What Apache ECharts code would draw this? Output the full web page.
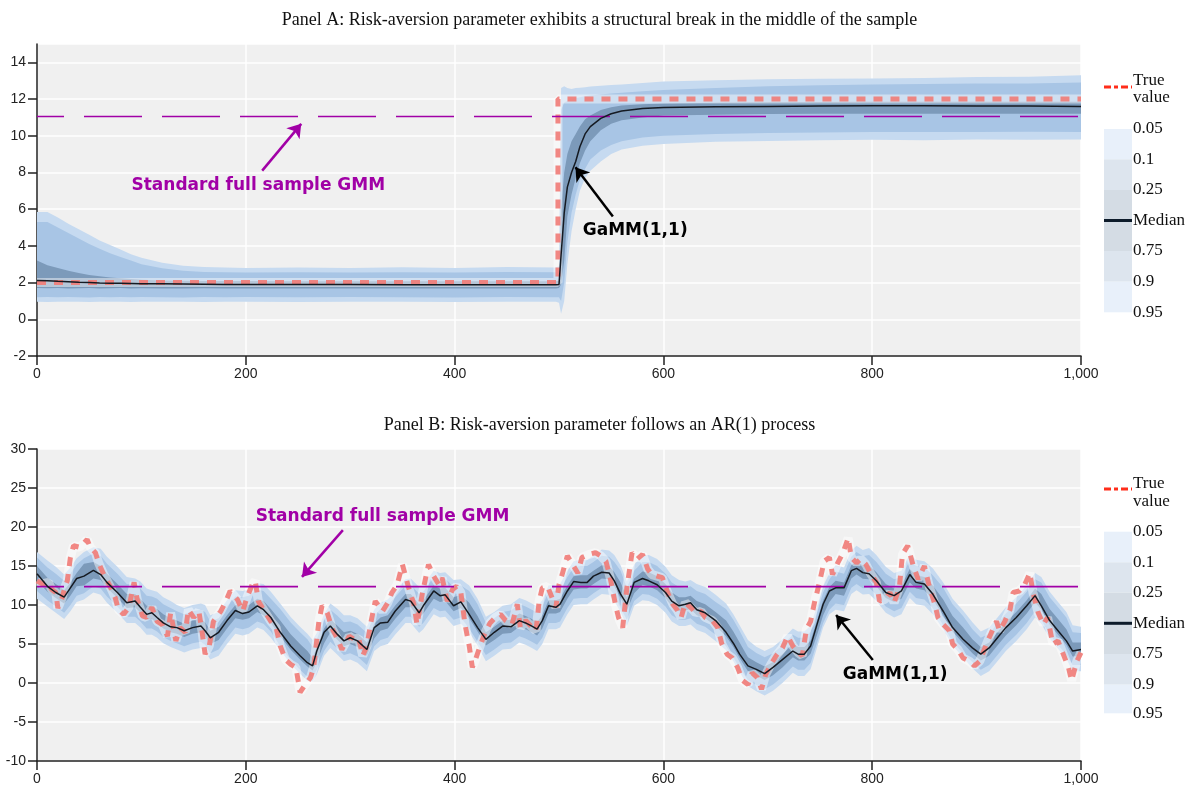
<!DOCTYPE html>
<html>
<head>
<meta charset="utf-8">
<script src="https://cdn.jsdelivr.net/npm/echarts@6/dist/echarts.min.js"></script>
<style>
html,body{margin:0;padding:0;background:#fff;}
#chart{width:1199px;height:787px;}
</style>
</head>
<body>
<div id="chart"></div>
<script>
// ---------------- Panel A data ----------------
const tA = [0,10,20,30,40,50,60,70,80,90, 100,120,140,160,180,200,250,300,350,400,
  450,497,500,502,505,508,512,516,520,525, 530,540,550,560,580,600,650,700,750,800,
  850,900,950,1000];
const medA = [2.12,2.1,2.07,2.05,2.02,2.0,1.98,1.97,1.96,1.95, 1.94,1.93,1.92,1.91,1.9,1.9,1.89,1.89,1.88,1.88,
  1.88,1.88,1.9,3.5,5.8,7.2,8.0,8.6,9.4,10.1, 10.5,10.95,11.2,11.35,11.48,11.54,11.58,11.6,11.62,11.63,
  11.63,11.62,11.62,11.6];
const q05A = [0.95,0.94,0.95,0.96,0.95,0.94,0.95,0.96,0.95,0.94, 0.95,0.96,0.95,0.94,0.96,0.95,0.94,0.96,0.95,0.94,
  0.96,0.95,0.9,0.3,1.0,3.0,4.8,6.0,7.0,7.7, 8.1,8.6,9.0,9.25,9.45,9.55,9.68,9.72,9.75,9.78,
  9.76,9.8,9.78,9.8];
const q10A = [1.2,1.21,1.2,1.22,1.2,1.19,1.21,1.2,1.22,1.2, 1.21,1.2,1.19,1.21,1.2,1.22,1.2,1.21,1.2,1.19,
  1.21,1.2,1.2,1.0,2.0,4.2,5.8,6.8,7.6,8.2, 8.7,9.2,9.5,9.7,9.9,10.0,10.1,10.15,10.18,10.2,
  10.2,10.2,10.22,10.2];
const q25A = [1.7,1.69,1.7,1.68,1.69,1.7,1.68,1.69,1.7,1.68, 1.69,1.68,1.68,1.69,1.68,1.68,1.68,1.68,1.68,1.68,
  1.68,1.68,1.7,1.9,3.2,5.6,6.8,7.7,8.5,9.2, 9.7,10.3,10.65,10.85,11.0,11.1,11.15,11.18,11.2,11.2,
  11.2,11.2,11.2,11.2];
const q75A = [3.2,2.95,2.8,2.65,2.52,2.42,2.34,2.28,2.23,2.19, 2.16,2.12,2.1,2.09,2.08,2.08,2.07,2.07,2.07,2.07,
  2.07,2.07,2.1,6.0,8.0,9.0,9.7,10.1,10.5,10.9, 11.1,11.4,11.55,11.65,11.72,11.76,11.8,11.82,11.84,11.85,
  11.85,11.85,11.85,11.85];
const q90A = [5.3,5.3,5.0,4.7,4.4,4.1,3.85,3.6,3.4,3.2, 3.0,2.78,2.65,2.58,2.56,2.55,2.56,2.55,2.57,2.55,
  2.58,2.57,2.6,11.4,11.8,11.9,12.0,12.05,12.1,12.15, 12.2,12.25,12.3,12.35,12.42,12.5,12.6,12.7,12.75,12.8,
  12.82,12.85,12.85,12.9];
const q95A = [5.85,5.85,5.55,5.2,4.9,4.6,4.3,4.05,3.8,3.55, 3.35,3.08,2.92,2.85,2.82,2.8,2.82,2.8,2.83,2.8,
  2.85,2.82,2.9,12.6,12.7,12.6,12.55,12.6,12.62,12.65, 12.68,12.72,12.76,12.8,12.88,12.95,13.02,13.08,13.1,13.12,
  13.15,13.2,13.22,13.3];
const trueA = [[0,2],[499,2],[499,12],[1000,12]];
const gmmA = 11.05;

// ---------------- Panel B data ----------------
const tB = [0,10,18,26,32,38,45,54,61,67, 77,86,94,99,105,110,115,121,128,134,
  141,149,157,161,166,174,182,190,197,203, 211,217,224,233,243,252,259,264,268,275,
  281,288,294,300,307,316,323,329,336,343, 353,358,366,370,380,386,391,399,406,414,
  422,430,438,446,454,462,468,474,479,484, 490,497,501,508,514,521,527,533,541,548,
  553,559,565,572,580,586,594,602,608,615, 621,626,632,640,650,660,667,673,681,689,
  697,705,714,724,729,735,741,748,753,759, 765,773,780,785,791,797,804,813,821,828,
  836,842,850,858,868,877,887,896,904,912, 920,928,938,948,956,962,970,978,986,992,
  1000];
const medB = [14.0,12.4,11.6,11.0,12.2,13.4,13.7,14.45,13.9,12.9, 11.6,10.3,10.5,9.7,8.8,9.0,8.4,7.7,7.2,7.1,
  6.7,7.1,7.3,6.7,5.8,6.5,8.0,9.3,8.9,9.1, 9.9,9.4,8.4,6.5,4.75,3.5,2.6,2.2,4.1,6.5,
  7.3,6.2,5.4,5.8,5.4,4.3,7.1,7.7,7.8,9.2, 10.7,10.5,9.0,9.9,11.8,11.2,11.3,9.9,10.4,8.8,
  7.1,5.6,6.5,7.3,7.2,8.0,7.7,7.3,6.9,8.0, 9.9,9.7,10.1,11.8,13.0,12.9,12.9,13.7,14.2,14.1,
  13.1,11.4,10.1,12.9,13.4,13.1,12.6,11.6,10.5,9.9, 10.1,10.3,9.4,9.0,8.0,6.5,5.1,3.7,2.2,1.75,
  1.2,2.0,3.0,4.1,3.7,3.7,4.75,7.9,10.1,11.8, 12.2,12.2,14.4,14.7,14.15,14.0,13.1,11.6,11.2,11.8,
  13.9,12.9,12.7,11.4,9.2,7.1,5.6,4.5,3.7,4.5, 5.8,7.1,8.4,9.9,11.2,9.9,8.0,6.7,5.4,4.1,
  4.3];
const q05B = [10.8,9.8,9.0,8.2,9.2,10.4,10.7,11.6,11.3,10.3, 9.0,7.7,7.7,7.1,6.2,6.2,5.8,5.1,4.6,4.3,
  3.9,4.3,4.5,4.1,3.0,3.5,5.0,6.3,6.1,6.3, 7.1,6.8,5.8,4.2,2.45,1.2,0.3,0.2,1.1,3.5,
  4.5,3.6,2.8,3.0,2.6,1.5,4.1,4.7,5.0,6.2, 7.7,7.7,6.4,6.9,8.8,8.4,8.5,7.3,7.6,6.5,
  4.8,2.8,3.5,4.3,4.4,5.2,4.9,4.5,4.1,5.0, 6.9,6.9,7.1,8.8,10.0,10.1,10.1,10.7,11.4,11.3,
  10.5,9.1,7.3,9.9,10.6,10.5,10.0,9.0,7.9,7.3, 7.3,7.5,6.8,6.4,5.4,4.2,2.8,1.4,-0.4,-1.05,
  -1.6,-1.0,0.0,1.3,0.9,0.9,1.75,4.9,7.1,8.8, 9.4,9.2,11.4,11.9,11.35,11.4,10.5,9.0,8.4,8.8,
  10.9,10.1,9.9,8.8,6.9,4.8,3.3,1.9,0.9,1.5, 2.8,4.1,5.4,6.9,8.4,7.6,5.7,4.4,3.1,1.5,
  1.5];
const q10B = [11.8,10.6,9.8,9.0,10.0,11.2,11.5,12.4,12.1,11.1, 9.8,8.5,8.5,7.9,7.0,7.0,6.6,5.9,5.4,5.1,
  4.7,5.1,5.3,4.9,3.8,4.3,5.8,7.1,6.9,7.1, 7.9,7.6,6.6,4.7,2.95,1.7,0.8,0.9,1.7,4.1,
  5.3,4.4,3.6,3.8,3.4,2.3,4.7,5.5,5.8,7.0, 8.5,8.5,7.2,7.7,9.6,9.2,9.3,8.1,8.4,7.0,
  5.3,3.6,4.3,5.1,5.2,6.0,5.7,5.3,4.9,5.8, 7.7,7.7,7.9,9.6,10.8,10.9,10.9,11.5,12.2,12.1,
  11.3,9.6,8.1,10.5,11.4,11.3,10.8,9.8,8.7,8.1, 8.1,8.3,7.6,7.2,6.2,4.7,3.3,1.9,0.4,-0.25,
  -0.8,-0.2,0.8,2.1,1.7,1.7,2.55,5.5,7.7,9.4, 10.2,10.0,12.2,12.7,12.15,12.2,11.3,9.8,9.2,9.6,
  11.7,10.9,10.7,9.6,7.4,5.3,3.8,2.7,1.7,2.3, 3.6,4.9,6.2,7.7,9.2,8.1,6.2,4.9,3.6,2.3,
  2.3];
const q25B = [13.1,11.7,10.9,10.2,11.2,12.4,12.5,13.4,13.2,12.2, 10.9,9.6,9.7,9.0,8.1,8.2,7.7,7.0,6.5,6.3,
  5.9,6.3,6.5,6.0,5.0,5.5,7.0,8.3,8.1,8.3, 9.1,8.7,7.7,6.0,4.25,3.0,2.1,1.6,2.7,5.1,
  6.5,5.5,4.7,5.0,4.6,3.5,5.7,6.7,7.0,8.2, 9.7,9.7,8.3,8.9,10.8,10.4,10.5,9.2,9.6,8.3,
  6.6,4.8,5.5,6.3,6.4,7.2,6.9,6.5,6.1,7.0, 8.9,8.9,9.1,10.8,12.0,12.1,12.1,12.7,13.4,13.3,
  12.4,10.9,9.3,11.5,12.6,12.4,11.9,10.9,9.8,9.2, 9.3,9.5,8.7,8.3,7.3,6.0,4.6,3.2,1.5,0.95,
  0.4,1.0,2.0,3.3,2.9,2.9,3.75,6.5,8.7,10.4, 11.4,11.2,13.4,13.9,13.35,13.3,12.4,10.9,10.4,10.8,
  12.9,12.1,11.9,10.7,8.7,6.6,5.1,3.8,2.9,3.5, 4.8,6.1,7.4,8.9,10.4,9.4,7.5,6.2,4.9,3.4,
  3.5];
const q75B = [15.0,13.5,12.7,11.9,12.9,14.1,15.3,15.5,15.0,14.0, 12.7,11.4,11.4,10.8,9.9,9.9,9.5,8.8,8.3,8.0,
  7.6,8.0,8.2,7.8,6.7,7.2,8.7,10.0,9.8,10.0, 10.8,10.5,9.5,8.0,6.25,5.0,4.1,3.2,4.6,7.0,
  8.2,7.3,6.5,6.7,6.3,5.2,7.6,8.4,8.7,9.9, 11.4,11.4,10.1,10.6,12.5,12.1,12.2,11.0,11.3,10.3,
  8.6,6.5,7.2,8.0,8.1,8.9,8.6,8.2,7.8,8.7, 10.6,10.6,10.8,12.5,13.7,13.8,13.8,14.4,15.1,15.0,
  14.2,12.9,11.0,13.4,14.3,14.2,13.7,12.7,11.6,11.0, 11.0,11.2,10.5,10.1,9.1,8.0,6.6,5.2,3.3,2.65,
  2.1,2.7,3.7,5.0,4.6,4.6,5.45,8.4,10.6,12.3, 13.1,12.9,15.1,15.6,15.05,15.1,14.2,12.7,12.1,12.5,
  14.6,13.8,13.6,12.5,10.7,8.6,7.1,5.6,4.6,5.2, 6.5,7.8,9.1,10.6,12.1,11.4,9.5,8.2,6.9,5.2,
  5.2];
const q90B = [16.1,14.8,14.0,13.1,14.0,15.2,16.0,16.6,16.3,15.3, 14.0,12.7,12.6,12.1,11.2,11.1,10.8,10.1,9.6,9.2,
  8.8,9.2,9.4,9.1,7.9,8.3,9.8,11.1,11.0,11.2, 12.0,11.8,10.8,9.5,7.75,6.5,5.6,4.6,5.6,8.0,
  9.4,8.6,7.8,7.9,7.5,6.4,8.6,9.5,9.9,11.0, 12.5,12.6,11.4,11.7,13.6,13.3,13.4,12.3,12.5,11.8,
  10.1,7.7,8.3,9.1,9.3,10.1,9.8,9.4,9.0,9.8, 11.7,11.8,11.9,13.6,14.8,15.0,15.0,15.5,16.3,16.2,
  15.5,14.4,12.2,14.4,15.5,15.5,15.0,14.0,12.9,12.3, 12.2,12.4,11.8,11.4,10.4,9.5,8.1,6.7,4.6,3.85,
  3.3,3.8,4.8,6.2,5.8,5.8,6.55,9.4,11.6,13.3, 14.3,14.0,16.2,16.8,16.25,16.4,15.5,14.0,13.3,13.6,
  15.7,15.0,14.8,13.8,12.2,10.1,8.6,6.9,5.8,6.3, 7.6,8.9,10.2,11.7,13.3,12.9,11.0,9.7,8.4,6.5,
  6.4];
const q95B = [16.8,15.7,14.9,13.9,14.8,16.0,16.8,17.4,17.2,16.2, 14.9,13.6,13.4,13.0,12.1,11.9,11.7,11.0,10.5,10.0,
  9.6,10.0,10.2,10.0,8.7,9.1,10.6,11.9,11.8,12.0, 12.8,12.7,11.7,10.2,8.45,7.2,6.3,5.5,6.4,8.8,
  10.2,9.5,8.7,8.7,8.3,7.2,9.4,10.3,10.7,11.8, 13.3,13.4,12.3,12.5,14.4,14.1,14.2,13.2,13.3,12.5,
  10.8,8.5,9.1,9.9,10.1,10.9,10.6,10.2,9.8,10.6, 12.5,12.6,12.7,14.4,15.6,15.8,15.8,16.3,17.1,17.0,
  16.4,15.1,13.0,15.2,16.3,16.4,15.9,14.9,13.8,13.2, 13.0,13.2,12.7,12.3,11.3,10.2,8.8,7.4,5.5,4.65,
  4.1,4.6,5.6,7.0,6.6,6.6,7.35,10.2,12.4,14.1, 15.1,14.8,17.0,17.6,17.05,17.3,16.4,14.9,14.1,14.4,
  16.5,15.8,15.6,14.7,12.9,10.8,9.3,7.8,6.6,7.1, 8.4,9.7,11.0,12.5,14.1,13.6,11.7,10.4,9.1,7.4,
  7.2];
const trueB = [[0,13.1],[5,12.7],[11,12.9],[14,12.0],[18,11.6],[20,9.6],[24,10.9],[27,12.4],[29,13.1],[32,16.1],
  [35,17.6],[41,17.4],[48,18.4],[51,17.4],[56,16.7],[59,15.4],[64,13.9],[70,12.4],[75,10.9],[78,9.4],
  [83,8.8],[88,9.7],[93,12.9],[96,10.7],[101,8.6],[105,8.4],[110,9.7],[115,7.9],[120,7.5],[125,6.0],
  [128,9.0],[133,5.4],[137,7.1],[142,6.5],[145,9.4],[150,8.4],[155,9.2],[158,6.7],[161,3.7],[165,4.75],
  [169,7.9],[176,9.2],[181,10.5],[185,11.8],[192,10.7],[197,9.2],[201,10.9],[206,12.6],[209,13.1],[212,10.5],
  [217,9.4],[224,7.9],[229,7.1],[233,4.75],[238,3.0],[243,2.4],[248,2.0],[252,-1.2],[257,-0.2],[262,0.7],
  [265,2.0],[270,7.9],[273,9.9],[278,9.0],[283,6.9],[288,5.6],[292,4.3],[299,6.0],[304,5.6],[308,5.8],
  [312,3.5],[316,4.75],[320,7.9],[324,10.5],[331,9.2],[336,10.3],[340,11.6],[345,12.6],[350,15.2],[356,12.2],
  [361,10.1],[364,7.5],[369,11.4],[375,15.2],[380,13.7],[385,12.6],[388,13.5],[393,10.5],[398,12.0],[402,12.4],
  [406,11.6],[410,7.5],[414,4.75],[417,2.0],[420,3.0],[425,5.0],[430,6.7],[434,7.7],[439,8.4],[444,8.8],
  [449,8.0],[455,7.5],[460,10.1],[463,7.1],[468,8.0],[473,7.3],[478,6.7],[481,10.5],[484,12.2],[489,12.4],
  [494,10.7],[497,9.7],[500,12.6],[503,13.9],[508,16.3],[513,15.2],[518,14.1],[522,16.1],[529,16.5],[535,16.7],
  [540,16.3],[545,15.6],[549,13.5],[554,10.1],[557,8.4],[561,7.1],[565,12.2],[570,16.7],[575,15.9],[580,16.5],
  [585,14.6],[589,13.9],[594,13.7],[599,13.5],[604,11.6],[609,10.1],[613,9.4],[617,8.4],[621,10.3],[626,9.7],
  [631,9.0],[636,9.2],[640,8.4],[647,8.0],[652,7.1],[656,5.0],[661,3.7],[666,3.2],[671,2.0],[676,0.3],
  [681,-0.2],[685,1.3],[690,0.7],[694,-0.8],[698,1.1],[703,2.4],[708,3.5],[714,4.5],[719,6.0],[724,4.75],
  [729,3.9],[733,3.5],[737,6.9],[741,7.9],[745,10.5],[749,12.6],[754,15.6],[759,16.1],[762,13.9],[767,15.4],
  [772,16.7],[777,18.6],[780,16.1],[785,15.4],[789,15.9],[794,15.2],[799,13.9],[804,12.9],[807,10.5],[812,10.7],
  [817,11.6],[821,10.3],[826,12.2],[829,16.5],[834,17.6],[839,15.2],[844,13.3],[850,15.0],[855,12.2],[860,10.1],
  [863,8.4],[868,7.5],[874,6.7],[877,5.0],[882,4.3],[887,3.2],[893,2.8],[898,2.2],[903,2.8],[908,4.5],
  [912,5.8],[919,7.9],[922,6.7],[927,7.9],[932,9.4],[935,11.6],[941,11.8],[946,12.6],[951,14.1],[954,11.6],
  [959,9.0],[964,7.5],[968,8.4],[973,5.0],[978,5.4],[983,3.7],[988,2.0],[991,0.3],[996,2.8],[1000,3.9]];
const gmmB = 12.35;

// ticks / labels
const xTicks = [0,200,400,600,800,1000];
const xTickLabels = ['0','200','400','600','800','1,000'];
const legendLabels = ['0.05','0.1','0.25','Median','0.75','0.9','0.95'];

// annotations (data-space anchors)
const notesA = {gmmText:[212,7.28], gmmArrow:[[215.7,8.1],[253.1,10.65]], gammText:[573,4.84], gammArrow:[[551.6,5.6],[515.8,8.28]]};
const notesB = {gmmText:[331,21.3], gmmArrow:[[293,19.6],[253.8,13.6]], gammText:[822,1.03], gammArrow:[[800.6,2.95],[765.4,8.72]]};

// ---------------- checks ----------------
[[tA,medA,q05A,q10A,q25A,q75A,q90A,q95A],[tB,medB,q05B,q10B,q25B,q75B,q90B,q95B]].forEach((g,k)=>{
  g.forEach((a,i)=>{ if(a.length!==g[0].length) throw new Error('length mismatch panel '+k+' array '+i+': '+a.length+' vs '+g[0].length); });
});

// ---------------- styles ----------------
const C_LIGHT = '#c6daf0', C_MID = '#a8c5e5', C_DARK = '#7c9aba';
const PURPLE = '#a100a6';
const RED = '#f07d78';

// band polygon drawn through the axis scales (api.coord)
function bandSeries(idx, t, lo, hi, color, z){
  return {
    type:'custom', xAxisIndex:idx, yAxisIndex:idx, silent:true, z:z, clip:true,
    data: t.map((x,i)=>[x, lo[i], hi[i]]),
    encode:{x:0, y:[1,2]},
    renderItem: function(params, api){
      if (params.dataIndex !== 0) return null;
      const pts = [];
      for (let i=0;i<t.length;i++) pts.push(api.coord([t[i], hi[i]]));
      for (let i=t.length-1;i>=0;i--) pts.push(api.coord([t[i], lo[i]]));
      return {type:'polygon', shape:{points:pts}, style:{fill:color, stroke:null}};
    }
  };
}

const annFont = {fontFamily:'DejaVu Sans', fontWeight:'bold', fontSize:17};

function panelSeries(idx, t, med, q05,q10,q25,q75,q90,q95, truePts, gmm, notes){
  const s = [
    bandSeries(idx, t, q05, q95, C_LIGHT, 1),
    bandSeries(idx, t, q10, q90, C_MID, 1),
    bandSeries(idx, t, q25, q75, C_DARK, 1)
  ];
  s.push({type:'line', xAxisIndex:idx, yAxisIndex:idx, data:truePts, symbol:'none', silent:true, z:2,
    lineStyle:{color:'rgba(255,255,255,0.45)', width:9}});
  s.push({type:'line', xAxisIndex:idx, yAxisIndex:idx, data:truePts, symbol:'none', silent:true, z:3,
    lineStyle:{color:RED, width:5, type:[9,8], opacity:0.92}});
  s.push({type:'line', xAxisIndex:idx, yAxisIndex:idx, data:[[0,gmm],[1000,gmm]], symbol:'none', silent:true, z:4,
    lineStyle:{color:PURPLE, width:1.6, type:[58,20], dashOffset:31},
    markLine:{silent:true, symbol:['none','arrow'], symbolSize:13, animation:false,
      lineStyle:{color:PURPLE, width:2.5, type:'solid'}, label:{show:false},
      data:[[{coord:notes.gmmArrow[0]},{coord:notes.gmmArrow[1]}]]},
    markPoint:{silent:true, symbol:'rect', symbolSize:1, itemStyle:{color:'rgba(0,0,0,0)'}, animation:false,
      label:Object.assign({show:true, position:'inside', color:PURPLE, formatter:'Standard full sample GMM'}, annFont),
      data:[{coord:notes.gmmText}]}
  });
  s.push({type:'line', xAxisIndex:idx, yAxisIndex:idx, data:t.map((x,i)=>[x,med[i]]), symbol:'none', silent:true, z:5,
    lineStyle:{color:'#151a22', width:1.5},
    markLine:{silent:true, symbol:['none','arrow'], symbolSize:13, animation:false,
      lineStyle:{color:'#000', width:2.5, type:'solid'}, label:{show:false},
      data:[[{coord:notes.gammArrow[0]},{coord:notes.gammArrow[1]}]]},
    markPoint:{silent:true, symbol:'rect', symbolSize:1, itemStyle:{color:'rgba(0,0,0,0)'}, animation:false,
      label:Object.assign({show:true, position:'inside', color:'#000', formatter:'GaMM(1,1)'}, annFont),
      data:[{coord:notes.gammText}]}
  });
  return s;
}

const tickFont = {color:'#222', fontSize:14, fontFamily:'Liberation Sans'};
function xAx(idx){
  return {gridIndex:idx, type:'value', min:0, max:1000, interval:200,
    axisLine:{onZero:false, lineStyle:{color:'#222', width:1.5}},
    axisTick:{length:9, lineStyle:{color:'#222', width:1.5}},
    axisLabel:Object.assign({margin:11, formatter:v=>{const k=xTicks.indexOf(v); return k>=0?xTickLabels[k]:'';}}, tickFont),
    splitLine:{show:true, lineStyle:{color:'#fff', width:1.5}}};
}
function yAx(idx,min,max,interval){
  return {gridIndex:idx, type:'value', min:min, max:max, interval:interval,
    axisLine:{show:true, onZero:false, lineStyle:{color:'#222', width:1.5}},
    axisTick:{show:true, length:9, lineStyle:{color:'#222', width:1.5}},
    axisLabel:Object.assign({margin:11, showMaxLabel: idx===0 ? false : true}, tickFont),
    splitLine:{show:true, lineStyle:{color:'#fff', width:1.5}}};
}

// legend drawn as graphic
const SEG_COLORS = ['#e8f0fa','#dde5ee','#d4dce4','#d4dce4','#dde5ee','#e8f0fa'];
function legendGraphic(redY, trueY, valueY, bounds){
  const els = [];
  const x0 = 1104, w = 28;
  const font = '17px "Liberation Serif"';
  els.push({type:'line', shape:{x1:x0, y1:redY, x2:x0+w, y2:redY}, style:{stroke:'#ff2d1a', lineWidth:3, lineDash:[7,3,4,3]}});
  els.push({type:'text', style:{text:'True', x:x0+w+1, y:trueY, font:font, fill:'#111', verticalAlign:'middle'}});
  els.push({type:'text', style:{text:'value', x:x0+w+1, y:valueY, font:font, fill:'#111', verticalAlign:'middle'}});
  for(let i=0;i<6;i++){
    els.push({type:'rect', shape:{x:x0, y:bounds[i], width:w, height:bounds[i+1]-bounds[i]}, style:{fill:SEG_COLORS[i]}});
  }
  els.push({type:'line', shape:{x1:x0, y1:bounds[3], x2:x0+w, y2:bounds[3]}, style:{stroke:'#0d1b2a', lineWidth:3}});
  for(let i=0;i<7;i++){
    els.push({type:'text', style:{text:legendLabels[i], x:x0+w+1, y:bounds[i], font:font, fill:'#111', verticalAlign:'middle'}});
  }
  return els;
}

const chart = echarts.init(document.getElementById('chart'), null, {renderer:'canvas'});
const titleStyle = {fontFamily:'Liberation Serif', fontSize:18, fontWeight:'normal', color:'#111'};
chart.setOption({
  animation:false,
  backgroundColor:'#ffffff',
  title:[
    {text:'Panel A: Risk-aversion parameter exhibits a structural break in the middle of the sample', left:'center', top:6, textStyle:titleStyle},
    {text:'Panel B: Risk-aversion parameter follows an AR(1) process', left:'center', top:411, textStyle:titleStyle}
  ],
  grid:[
    {left:37, right:118, top:44, bottom:431, show:true, backgroundColor:'#f0f0f0', borderWidth:0},
    {left:37, right:118, top:449, bottom:26, show:true, backgroundColor:'#f0f0f0', borderWidth:0}
  ],
  xAxis:[xAx(0), xAx(1)],
  yAxis:[yAx(0,-2,15,2), yAx(1,-10,30,5)],
  series:[].concat(
    panelSeries(0, tA, medA, q05A,q10A,q25A,q75A,q90A,q95A, trueA, gmmA, notesA),
    panelSeries(1, tB, medB, q05B,q10B,q25B,q75B,q90B,q95B, trueB, gmmB, notesB)
  ),
  graphic:[].concat(
    legendGraphic(87, 81, 98, [129,159.3,190,220.5,251,281.7,312.3]),
    legendGraphic(489, 483.5, 501.5, [531.7,562.3,592.7,623.3,654,684.7,713.3])
  )
});
</script>
</body>
</html>
